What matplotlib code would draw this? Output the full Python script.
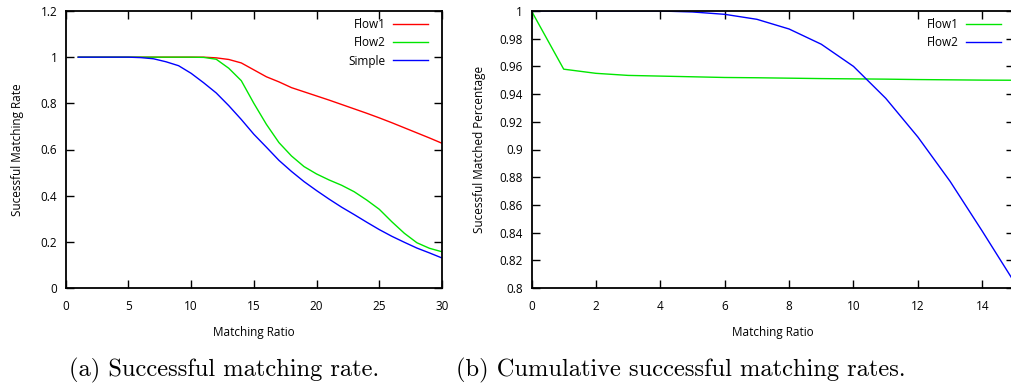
import numpy as np
import matplotlib
matplotlib.use("Agg")
import matplotlib.pyplot as plt
from matplotlib.ticker import FuncFormatter

plt.rcParams['font.family'] = ['Open Sans', 'DejaVu Sans']
plt.rcParams['font.size'] = 8.5

# (a) successful matching rate
ratio_a = np.arange(1, 31)
flow1_a = [1.0, 1.0, 1.0, 1.0, 1.0, 1.0, 1.0, 1.0, 1.0, 1.0,
           1.0, 0.997, 0.99, 0.975, 0.945, 0.915, 0.893, 0.868, 0.850, 0.832,
           0.814, 0.795, 0.776, 0.757, 0.737, 0.716, 0.694, 0.672, 0.650, 0.627]
flow2_a = [1.0, 1.0, 1.0, 1.0, 1.0, 1.0, 1.0, 1.0, 1.0, 1.0,
           0.999, 0.991, 0.952, 0.898, 0.80, 0.709, 0.63, 0.572, 0.526, 0.494,
           0.468, 0.445, 0.417, 0.381, 0.341, 0.287, 0.237, 0.196, 0.172, 0.157]
simple_a = [1.0, 1.0, 1.0, 1.0, 1.0, 0.998, 0.993, 0.98, 0.963, 0.93,
            0.889, 0.845, 0.79, 0.73, 0.666, 0.61, 0.553, 0.505, 0.461, 0.422,
            0.385, 0.35, 0.318, 0.285, 0.253, 0.224, 0.198, 0.173, 0.152, 0.13]

# (b) cumulative successful matching rates
ratio_b = np.arange(0, 16)
flow1_b = [1.0, 0.958, 0.955, 0.9535, 0.953, 0.9525, 0.952, 0.9518,
           0.9515, 0.9512, 0.951, 0.9508, 0.9505, 0.9503, 0.9501, 0.950]
flow2_b = [1.0, 1.0, 1.0, 1.0, 1.0, 0.9993, 0.9976, 0.994,
           0.987, 0.976, 0.960, 0.937, 0.909, 0.877, 0.841, 0.804]

RED, GREEN, BLUE = '#ff0000', '#00e600', '#0000ff'

W, H = 1012, 384
fig = plt.figure(figsize=(W / 100, H / 100), dpi=100)

def px(x0, y0, x1, y1):
    return [x0 / W, 1 - y1 / H, (x1 - x0) / W, (y1 - y0) / H]

fmt = FuncFormatter(lambda v, p: '%g' % round(v, 4))

def style(ax):
    ax.tick_params(direction='in', length=6, width=1, top=True, right=True,
                   labelsize=8.5)
    ax.tick_params(axis='x', pad=9)
    ax.tick_params(axis='y', pad=6)
    for s in ax.spines.values():
        s.set_linewidth(1.3)
    ax.yaxis.set_major_formatter(fmt)

ax1 = fig.add_axes(px(65.7, 11, 442, 288))
ax1.plot(ratio_a, flow1_a, color=RED, lw=1, label='Flow1')
ax1.plot(ratio_a, flow2_a, color=GREEN, lw=1, label='Flow2')
ax1.plot(ratio_a, simple_a, color=BLUE, lw=1, label='Simple')
ax1.set_xlim(0, 30)
ax1.set_ylim(0, 1.2)
ax1.set_xticks(np.arange(0, 31, 5))
ax1.set_yticks(np.arange(0, 1.21, 0.2))
style(ax1)
ax1.set_xlabel('Matching Ratio', fontsize=8.5, labelpad=9)
ax1.set_ylabel('Sucessful Matching Rate', fontsize=8.5, labelpad=12)
ax1.legend(loc='upper right', bbox_to_anchor=(0.963, 0.975), frameon=False,
           markerfirst=False, handlelength=3.0, handletextpad=0.6,
           labelspacing=0.45, borderpad=0, borderaxespad=0, fontsize=8.5)

ax2 = fig.add_axes(px(531.5, 11, 1014.5, 288))
ax2.plot(ratio_b, flow1_b, color=GREEN, lw=1, label='Flow1')
ax2.plot(ratio_b, flow2_b, color=BLUE, lw=1, label='Flow2')
ax2.set_xlim(0, 15)
ax2.set_ylim(0.8, 1.0)
ax2.set_xticks(np.arange(0, 15, 2))
ax2.set_yticks(np.arange(0.8, 1.001, 0.02))
style(ax2)
ax2.set_xlabel('Matching Ratio', fontsize=8.5, labelpad=9)
ax2.set_ylabel('Sucessful Matched Percentage', fontsize=8.5, labelpad=10)
ax2.legend(loc='upper right', bbox_to_anchor=(0.972, 0.975), frameon=False,
           markerfirst=False, handlelength=3.0, handletextpad=0.6,
           labelspacing=0.45, borderpad=0, borderaxespad=0, fontsize=8.5)

fig.text(224 / W, 1 - 370 / H, '(a) Successful matching rate.',
         family='cmr10', fontsize=17.6, ha='center', va='center')
fig.text(681 / W, 1 - 370 / H, '(b) Cumulative successful matching rates.',
         family='cmr10', fontsize=17.6, ha='center', va='center')

fig.savefig('out.png', dpi=100)
